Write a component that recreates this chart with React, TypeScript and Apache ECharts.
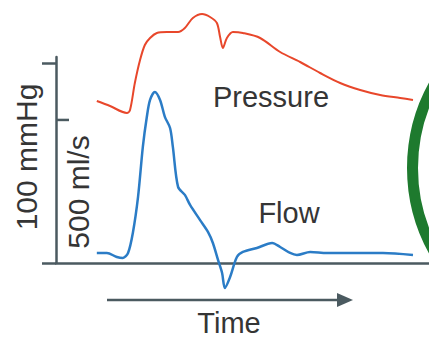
import React, { useEffect, useRef } from "react";
import * as echarts from "echarts";

// Time in ms from start of the trace
const pressureTime = [0, 33, 75, 83, 95, 108, 120, 133, 150, 175, 203, 220, 240, 263, 283, 300, 308, 315, 325, 340, 365, 408, 458, 508, 558, 608, 658, 708, 758, 790];
// Aortic pressure, mmHg
const pressureValues = [81, 78.5, 75, 76.5, 90, 101.5, 109, 112.5, 115, 115.5, 115.5, 117.5, 122.5, 124.5, 123, 120, 113, 107.5, 112.5, 115.5, 115, 112.5, 105.5, 100.5, 95, 90, 86.5, 84, 82.5, 81.5];

const flowTime = [0, 25, 50, 65, 78, 90, 103, 115, 125, 133, 145, 158, 170, 183, 190, 203, 220, 233, 258, 278, 290, 303, 313, 320, 333, 350, 365, 400, 438, 458, 483, 500, 533, 575, 633, 715, 790];
// Aortic flow, ml/s
const flowValues = [35, 35, 21, 17.5, 35, 105, 231, 406, 511, 570, 598, 570, 511, 472, 406, 266, 238, 203, 150, 108, 70, 10, -35, -87, -49, 21, 38.5, 52.5, 70, 56, 35, 28, 38.5, 35, 35, 35, 28];

const pressureTicks = [0, 100];
const flowTicks = [500];

const AXIS = "#4b5a60";
const TEXT = "#353535";
const FONT = "'Liberation Sans', Arial, Helvetica, sans-serif";

export default function App() {
  const ref = useRef<HTMLDivElement>(null);
  useEffect(() => {
    if (!ref.current) return;
    const chart = echarts.init(ref.current, null, { renderer: "svg" });
    const pData = pressureTime.map((t, i) => [t, pressureValues[i]]);
    const fData = flowTime.map((t, i) => [t, flowValues[i]]);
    const xMin = -102;
    chart.setOption({
      animation: false,
      backgroundColor: "#ffffff",
      grid: { left: 56, right: 0, top: 57, bottom: 76 },
      xAxis: {
        type: "value",
        min: xMin,
        max: 830,
        axisLine: { show: true, lineStyle: { color: AXIS, width: 2.5 } },
        axisTick: { show: false },
        axisLabel: { show: false },
        splitLine: { show: false },
      },
      yAxis: [
        {
          type: "value",
          min: 0,
          max: 103,
          position: "left",
          axisLine: { show: true, onZero: false, lineStyle: { color: AXIS, width: 2.5 } },
          axisTick: { show: true, length: 14, customValues: pressureTicks, lineStyle: { color: AXIS, width: 2.5 } },
          axisLabel: { show: false },
          splitLine: { show: false },
        },
        {
          type: "value",
          min: 0,
          max: 720,
          position: "left",
          show: false,
        },
      ],
      series: [
        {
          name: "Pressure",
          type: "line",
          yAxisIndex: 0,
          data: pData,
          showSymbol: false,
          smooth: 0.3,
          clip: false,
          lineStyle: { color: "#e8472b", width: 2 },
        },
        {
          name: "Flow",
          type: "line",
          yAxisIndex: 1,
          data: fData,
          showSymbol: false,
          smooth: 0.3,
          clip: false,
          lineStyle: { color: "#2b7cc6", width: 2.5 },
        },
      ],
      graphic: [
        {
          type: "circle",
          shape: { cx: 584, cy: 168, r: 171.5 },
          style: { fill: "none", stroke: "#1e7a2e", lineWidth: 11 },
          silent: true,
        },
        {
          type: "text",
          x: 26,
          y: 157,
          rotation: Math.PI / 2,
          style: { text: "100 mmHg", fill: TEXT, font: `30px ${FONT}`, textAlign: "center", textVerticalAlign: "middle" },
        },
        {
          type: "text",
          x: 78,
          y: 192,
          rotation: Math.PI / 2,
          style: { text: "500 ml/s", fill: TEXT, font: `30px ${FONT}`, textAlign: "center", textVerticalAlign: "middle" },
        },
        {
          type: "text",
          x: 271,
          y: 97,
          style: { text: "Pressure", fill: TEXT, font: `29px ${FONT}`, textAlign: "center", textVerticalAlign: "middle" },
        },
        {
          type: "text",
          x: 289,
          y: 213,
          style: { text: "Flow", fill: TEXT, font: `29px ${FONT}`, textAlign: "center", textVerticalAlign: "middle" },
        },
        {
          type: "text",
          x: 229,
          y: 323,
          style: { text: "Time", fill: TEXT, font: `29px ${FONT}`, textAlign: "center", textVerticalAlign: "middle" },
        },
        {
          type: "line",
          shape: { x1: 107, y1: 300, x2: 342, y2: 300 },
          style: { stroke: AXIS, lineWidth: 2.5 },
        },
        {
          type: "polygon",
          shape: { points: [[337, 293], [353, 300], [337, 307]] },
          style: { fill: AXIS },
        },
      ],
    });
    // Flow scale tick, placed through the flow axis' own scale
    const axisX = chart.convertToPixel({ xAxisIndex: 0 }, xMin) as number;
    const tickGraphics = flowTicks.map((v, i) => {
      const y = chart.convertToPixel({ yAxisIndex: 1 }, v) as number;
      return {
        id: "flowTick" + i,
        type: "line",
        shape: { x1: axisX, y1: y, x2: axisX + 13, y2: y },
        style: { stroke: AXIS, lineWidth: 2.5 },
      };
    });
    chart.setOption({ graphic: tickGraphics });
    return () => chart.dispose();
  }, []);
  return <div ref={ref} style={{ width: 429, height: 339, position: "absolute", left: 0, top: 0 }} />;
}
